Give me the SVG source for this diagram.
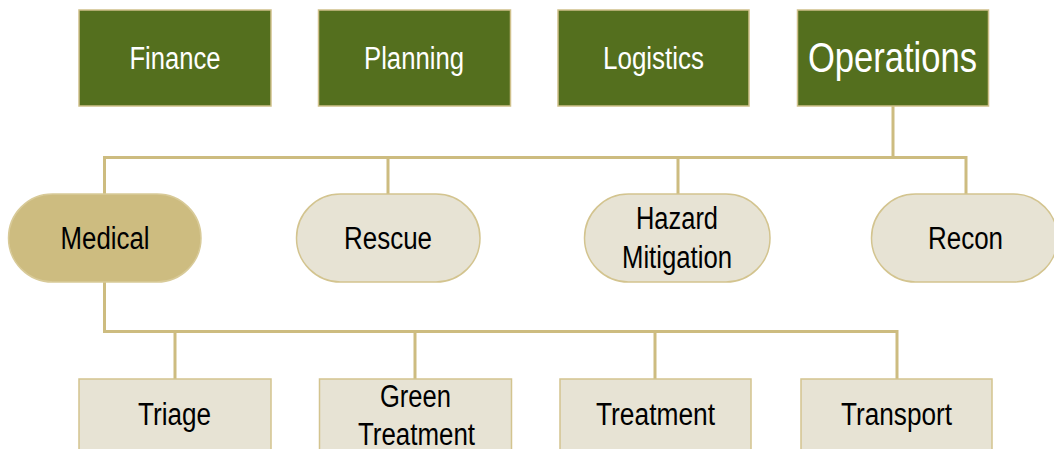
<svg xmlns="http://www.w3.org/2000/svg" width="1054" height="449" viewBox="0 0 1054 449">
<style>
.top{fill:#546F1E;stroke:#CFC08A;stroke-width:1.5}
.pill{fill:#E7E3D4;stroke:#D3C48F;stroke-width:1.5}
.pillsel{fill:#CDBC80;stroke:#D8CA98;stroke-width:1.5}
.sub{fill:#E7E3D4;stroke:#D3C48F;stroke-width:1.5}
.conn{fill:none;stroke:#CDBC80;stroke-width:3}
text{font-family:"Liberation Sans",Arial,sans-serif;text-anchor:middle}
.tw{fill:#FFFFFF;font-size:31px}
.tb{fill:#000000;font-size:31px}
</style>
<rect width="1054" height="449" fill="#FFFFFF"/>
<g id="connectors">
<path class="conn" d="M893,106 V157.5 M104.5,157.5 H966 M104.5,156 V194 M388,157.5 V194 M678,157.5 V194 M966,156 V194"/>
<path class="conn" d="M104.5,282 V331.5 H897 M175,331.5 V379 M415,331.5 V379 M655,331.5 V379 M897,330 V379"/>
</g>
<g id="finance"><rect class="top" x="79" y="10" width="192" height="96"/><text class="tw" x="175" y="68.5" textLength="91" lengthAdjust="spacingAndGlyphs">Finance</text></g>
<g id="planning"><rect class="top" x="318.5" y="10" width="192" height="96"/><text class="tw" x="414" y="68.5" textLength="100" lengthAdjust="spacingAndGlyphs">Planning</text></g>
<g id="logistics"><rect class="top" x="558" y="10" width="191" height="96"/><text class="tw" x="653.5" y="68.5" textLength="101" lengthAdjust="spacingAndGlyphs">Logistics</text></g>
<g id="operations"><rect class="top" x="797.5" y="10" width="191" height="96"/><text class="tw" x="892.5" y="71.5" style="font-size:43px" textLength="169" lengthAdjust="spacingAndGlyphs">Operations</text></g>
<g id="medical"><rect class="pillsel" x="8.5" y="194" width="192.5" height="88" rx="44" ry="44"/><text class="tb" x="105" y="248.5" textLength="89" lengthAdjust="spacingAndGlyphs">Medical</text></g>
<g id="rescue"><rect class="pill" x="296.5" y="194" width="183.5" height="88" rx="44" ry="44"/><text class="tb" x="388" y="248.5" textLength="88" lengthAdjust="spacingAndGlyphs">Rescue</text></g>
<g id="hazard-mitigation"><rect class="pill" x="584.5" y="194" width="185.5" height="88" rx="44" ry="44"/><text class="tb" x="677" y="229" textLength="82" lengthAdjust="spacingAndGlyphs">Hazard</text><text class="tb" x="677" y="268" textLength="110" lengthAdjust="spacingAndGlyphs">Mitigation</text></g>
<g id="recon"><rect class="pill" x="871.5" y="194" width="186" height="88" rx="44" ry="44"/><text class="tb" x="965.5" y="248.5" textLength="75" lengthAdjust="spacingAndGlyphs">Recon</text></g>
<g id="triage"><rect class="sub" x="79" y="379" width="192" height="80"/><text class="tb" x="174.5" y="424.5" textLength="73" lengthAdjust="spacingAndGlyphs">Triage</text></g>
<g id="green-treatment"><rect class="sub" x="319.5" y="379" width="192" height="80"/><text class="tb" x="415.5" y="407" textLength="71" lengthAdjust="spacingAndGlyphs">Green</text><text class="tb" x="416.5" y="445" textLength="117" lengthAdjust="spacingAndGlyphs">Treatment</text></g>
<g id="treatment"><rect class="sub" x="560" y="379" width="191" height="80"/><text class="tb" x="655.5" y="424.5" textLength="119" lengthAdjust="spacingAndGlyphs">Treatment</text></g>
<g id="transport"><rect class="sub" x="801" y="379" width="191" height="80"/><text class="tb" x="896.5" y="424.5" textLength="111" lengthAdjust="spacingAndGlyphs">Transport</text></g>
</svg>
